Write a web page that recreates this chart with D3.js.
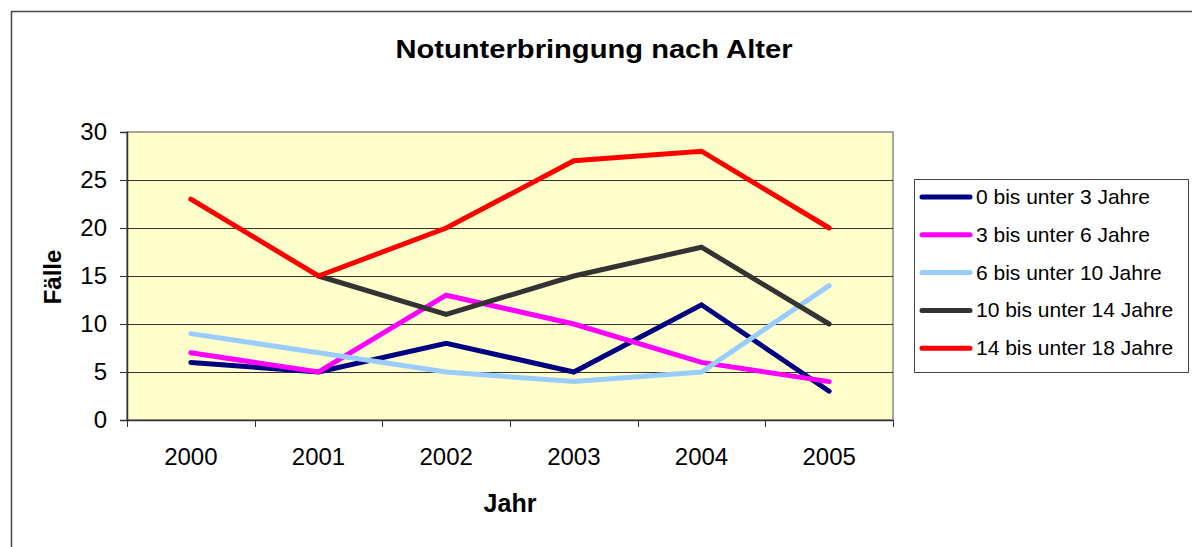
<!DOCTYPE html>
<html>
<head>
<meta charset="utf-8">
<script src="https://cdn.jsdelivr.net/npm/d3@7"></script>
<style>
  body { margin: 0; background: #fff; }
  svg { font-family: "Liberation Sans", Arial, sans-serif; }
</style>
</head>
<body>
<div id="chart"></div>
<script>
// data
const years = ["2000", "2001", "2002", "2003", "2004", "2005"];
const seriesNames = ["0 bis unter 3 Jahre", "3 bis unter 6 Jahre", "6 bis unter 10 Jahre", "10 bis unter 14 Jahre", "14 bis unter 18 Jahre"];
const age0to3 = [6, 5, 8, 5, 12, 3];
const age3to6 = [7, 5, 13, 10, 6, 4];
const age6to10 = [9, 7, 5, 4, 5, 14];
const age10to14 = [null, 15, 11, 15, 18, 10];
const age14to18 = [23, 15, 20, 27, 28, 20];
const yTicks = [0, 5, 10, 15, 20, 25, 30];
const colors = ["#000080", "#FF00FF", "#99CCFF", "#333333", "#FF0000"];

const allSeries = [age0to3, age3to6, age6to10, age10to14, age14to18];

const width = 1192, height = 547;
const plot = { left: 127, right: 893, top: 132, bottom: 420 };

const svg = d3.select("#chart").append("svg")
  .attr("width", width)
  .attr("height", height);

// outer chart frame
svg.append("rect")
  .attr("x", 11.5).attr("y", 11.5)
  .attr("width", 1200).attr("height", 600)
  .attr("fill", "#fff")
  .attr("stroke", "#444").attr("stroke-width", 1.5);

const xScale = d3.scaleBand()
  .domain(years)
  .range([plot.left, plot.right]);

const yScale = d3.scaleLinear()
  .domain([0, 30])
  .range([plot.bottom, plot.top]);

// plot background
svg.append("rect")
  .attr("x", plot.left).attr("y", plot.top)
  .attr("width", plot.right - plot.left)
  .attr("height", plot.bottom - plot.top)
  .attr("fill", "#FFFFCC")
  .attr("stroke", "#888").attr("stroke-width", 1.5);

// gridlines
svg.append("g")
  .selectAll("line")
  .data(yTicks.filter(d => d > 0 && d < 30))
  .enter().append("line")
  .attr("x1", plot.left).attr("x2", plot.right)
  .attr("y1", d => Math.round(yScale(d)) + 0.5)
  .attr("y2", d => Math.round(yScale(d)) + 0.5)
  .attr("stroke", "#333").attr("stroke-width", 1);

// y axis
const yAxis = d3.axisLeft(yScale).tickValues(yTicks).tickSize(7).tickPadding(13);
const yAxisGroup = svg.append("g")
  .attr("transform", `translate(${plot.left}, 0)`)
  .call(yAxis);
yAxisGroup.select(".domain").attr("stroke", "#333").attr("stroke-width", 1.5);
yAxisGroup.selectAll(".tick line").attr("stroke", "#333");
yAxisGroup.selectAll("text").attr("font-size", 24).attr("fill", "#000")
  .attr("font-family", "'Liberation Sans', Arial, sans-serif");

// x axis: ticks at category boundaries
const xAxisGroup = svg.append("g")
  .attr("transform", `translate(0, ${plot.bottom})`);
xAxisGroup.append("line")
  .attr("x1", plot.left).attr("x2", plot.right)
  .attr("y1", 0.5).attr("y2", 0.5)
  .attr("stroke", "#333").attr("stroke-width", 1.5);
const boundaries = years.map(y => xScale(y)).concat([plot.right]);
xAxisGroup.selectAll(".xt")
  .data(boundaries)
  .enter().append("line")
  .attr("x1", d => Math.round(d) + 0.5).attr("x2", d => Math.round(d) + 0.5)
  .attr("y1", 0).attr("y2", 7)
  .attr("stroke", "#333");
xAxisGroup.selectAll(".xl")
  .data(years)
  .enter().append("text")
  .attr("x", d => xScale(d) + xScale.bandwidth() / 2)
  .attr("y", 45)
  .attr("text-anchor", "middle")
  .attr("font-size", 24)
  .text(d => d);

// lines
const line = d3.line()
  .defined(d => d.v !== null)
  .x(d => xScale(d.year) + xScale.bandwidth() / 2)
  .y(d => yScale(d.v));

allSeries.forEach((vals, i) => {
  svg.append("path")
    .datum(vals.map((v, j) => ({ year: years[j], v: v })))
    .attr("d", line)
    .attr("fill", "none")
    .attr("stroke", colors[i])
    .attr("stroke-width", 5)
    .attr("stroke-linecap", "round")
    .attr("stroke-linejoin", "miter");
});

// title and axis titles
svg.append("text")
  .attr("x", 594).attr("y", 58)
  .attr("text-anchor", "middle")
  .attr("font-size", 25).attr("font-weight", "bold")
  .attr("textLength", 397).attr("lengthAdjust", "spacingAndGlyphs")
  .text("Notunterbringung nach Alter");

svg.append("text")
  .attr("x", 510).attr("y", 512)
  .attr("text-anchor", "middle")
  .attr("font-size", 25).attr("font-weight", "bold")
  .text("Jahr");

svg.append("text")
  .attr("transform", "translate(61, 277) rotate(-90)")
  .attr("text-anchor", "middle")
  .attr("font-size", 24).attr("font-weight", "bold")
  .text("Fälle");

// legend
const legend = svg.append("g");
legend.append("rect")
  .attr("x", 914.5).attr("y", 179.5)
  .attr("width", 274).attr("height", 193)
  .attr("fill", "#fff").attr("stroke", "#444").attr("stroke-width", 1);
seriesNames.forEach((name, i) => {
  const y = 197 + i * 37.8;
  legend.append("line")
    .attr("x1", 922).attr("x2", 970)
    .attr("y1", y).attr("y2", y)
    .attr("stroke", colors[i]).attr("stroke-width", 5)
    .attr("stroke-linecap", "round");
  legend.append("text")
    .attr("x", 976).attr("y", y + 7)
    .attr("font-size", 21)
    .text(name);
});
</script>
</body>
</html>
